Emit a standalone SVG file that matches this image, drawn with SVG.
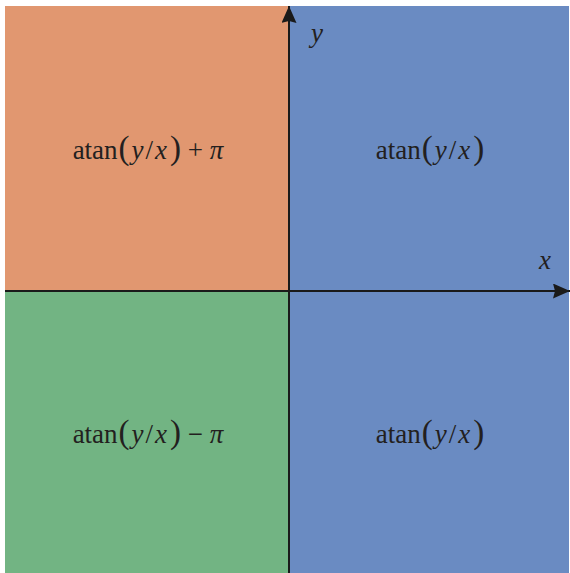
<svg xmlns="http://www.w3.org/2000/svg" width="570" height="573" viewBox="0 0 570 573">
<style>
.lbl{font-family:"Liberation Serif","DejaVu Serif",serif;font-size:27px;fill:#231f20;text-anchor:middle}
.it{font-style:italic}
.p{font-size:33px}
.ax{stroke:#1a1a1a;stroke-width:2;fill:none}
</style>
<defs>
<marker id="ah" markerWidth="18" markerHeight="16" refX="17" refY="7.5" orient="auto" markerUnits="userSpaceOnUse">
<path d="M0,0 L17,7.5 L0,15 L2,7.5 Z" fill="#1a1a1a"/>
</marker>
</defs>
<rect width="570" height="573" fill="#ffffff"/>
<g id="q2"><rect x="5" y="6" width="284" height="285" fill="#e19770"/>
<text class="lbl" x="148" y="159">atan<tspan class="p" dx="1">(</tspan><tspan class="it" dx="2">y</tspan><tspan dx="2">/</tspan><tspan class="it" dx="2">x</tspan><tspan class="p" dx="3">)</tspan> + <tspan class="it">π</tspan></text></g>
<g id="q1"><rect x="289" y="6" width="280" height="285" fill="#6a8bc2"/>
<text class="lbl" x="430" y="159">atan<tspan class="p" dx="1">(</tspan><tspan class="it" dx="2">y</tspan><tspan dx="2">/</tspan><tspan class="it" dx="2">x</tspan><tspan class="p" dx="3">)</tspan></text></g>
<g id="q3"><rect x="5" y="291" width="284" height="282" fill="#72b483"/>
<text class="lbl" x="148" y="443">atan<tspan class="p" dx="1">(</tspan><tspan class="it" dx="2">y</tspan><tspan dx="2">/</tspan><tspan class="it" dx="2">x</tspan><tspan class="p" dx="3">)</tspan> − <tspan class="it">π</tspan></text></g>
<g id="q4"><rect x="289" y="291" width="280" height="282" fill="#6a8bc2"/>
<text class="lbl" x="430" y="443">atan<tspan class="p" dx="1">(</tspan><tspan class="it" dx="2">y</tspan><tspan dx="2">/</tspan><tspan class="it" dx="2">x</tspan><tspan class="p" dx="3">)</tspan></text></g>
<g id="connectors">
<line class="ax" x1="289" y1="573" x2="289" y2="6" marker-end="url(#ah)"/>
<line class="ax" x1="5" y1="291" x2="570" y2="291" marker-end="url(#ah)"/>
</g>
<text class="lbl it" x="317" y="42">y</text>
<text class="lbl it" x="545" y="269">x</text>
</svg>
